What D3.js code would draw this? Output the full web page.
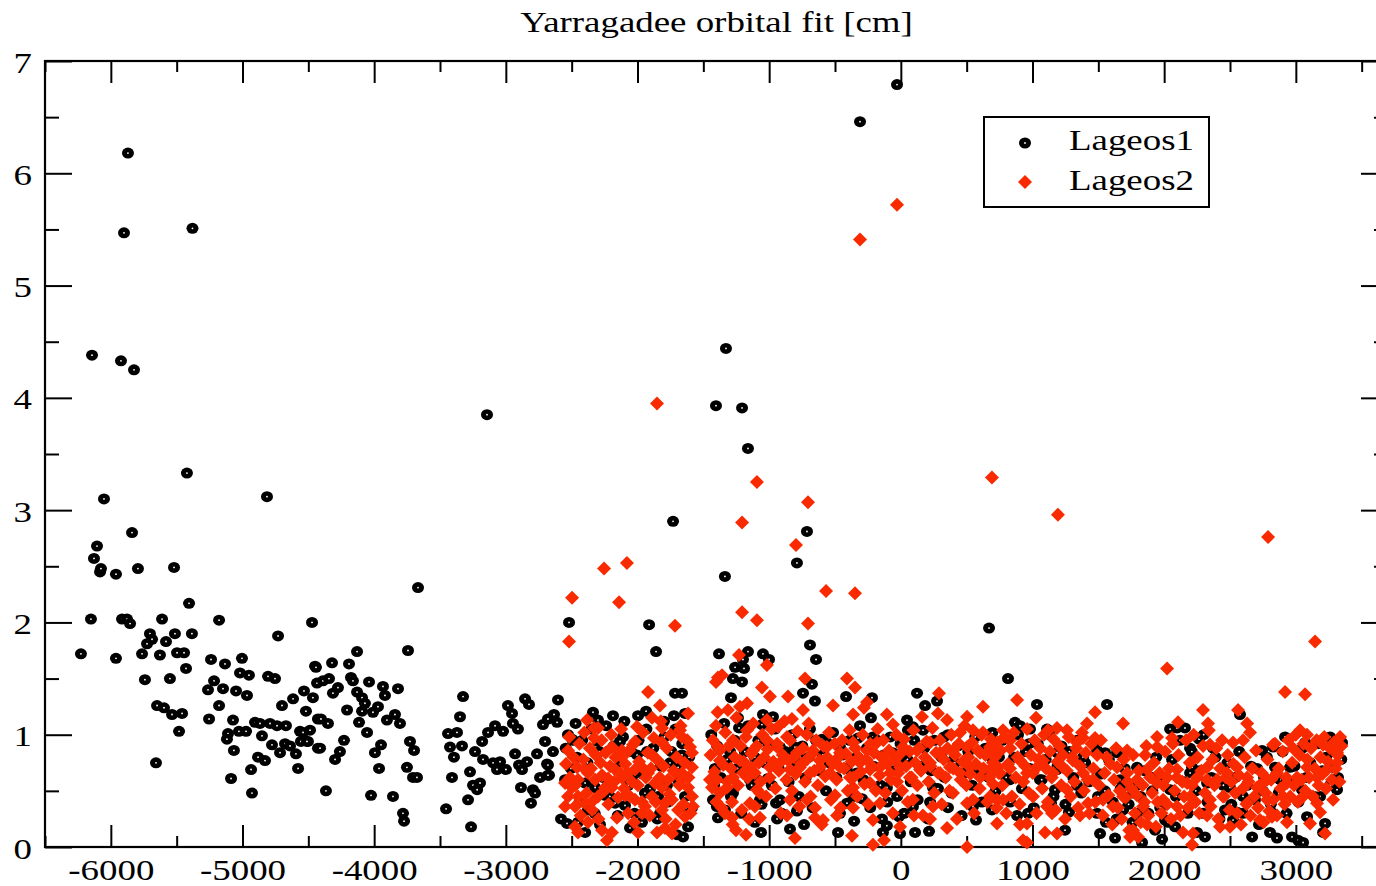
<!DOCTYPE html>
<html>
<head>
<meta charset="utf-8">
<script src="https://cdn.jsdelivr.net/npm/d3@7"></script>
<style>
  body { margin: 0; background: #fff; }
  text { font-family: "Liberation Serif", "Times New Roman", serif; fill: #000; }
</style>
</head>
<body>
<div class="chart"></div>
<script>
const title = 'Yarragadee orbital fit [cm]'
const seriesNames = ['Lageos1', 'Lageos2']
const xTickValues = [-6000, -5000, -4000, -3000, -2000, -1000, 0, 1000, 2000, 3000]
const yTickValues = [0, 1, 2, 3, 4, 5, 6, 7]

// Lageos1, early passes (before Lageos2 starts)
const lageos1A = [
  [-6227,1.72],[-6151,2.03],[-6143,4.38],[-6128,2.57],[-6105,2.68],[-6082,2.45],[-6075,2.48],[-6052,3.10],
  [-5961,2.43],[-5961,1.68],[-5923,4.33],[-5900,5.47],[-5915,2.03],[-5877,2.03],[-5870,6.18],[-5854,1.99],
  [-5839,2.80],[-5824,4.25],[-5794,2.48],[-5763,1.72],[-5741,1.49],[-5725,1.81],[-5703,1.90],[-5687,1.85],
  [-5611,2.03],[-5627,1.71],[-5581,1.83],[-5551,1.50],[-5520,2.49],[-5513,1.90],[-5497,1.73],[-5444,1.73],
  [-5429,1.59],[-5406,2.17],[-5384,1.90],[-5422,3.33],[-5380,5.51],[-5649,1.26],[-5596,1.24],[-5535,1.18],
  [-5459,1.19],[-5482,1.03],[-5657,0.75],
  [-5239,1.67],[-5178,2.02],[-5133,1.63],[-5004,1.68],[-5019,1.55],[-4951,1.53],[-5216,1.48],[-5262,1.40],
  [-5148,1.41],[-5178,1.26],[-5049,1.39],[-4966,1.35],[-5254,1.14],[-5072,1.13],[-5110,1.01],[-5118,0.96],
  [-5027,1.03],[-4973,1.03],[-5065,0.86],[-5087,0.61],[-4935,0.69],[-4928,0.48],[-4905,1.11],[-4867,1.10],
  [-4852,0.99],[-4882,0.80],[-4829,0.77],[-4806,1.52],[-4753,1.50],[-4730,1.88],[-4791,1.10],[-4738,1.08],
  [-4670,1.08],[-4776,0.91],[-4715,0.84],[-4677,0.92],[-4639,0.90],[-4700,1.26],[-4616,1.32],[-4594,0.83],
  [-4578,0.70],[-4533,1.39],[-4518,1.21],[-4563,1.03],[-4487,1.04],[-4556,0.94],[-4503,0.94],[-4472,2.00],
  [-4465,1.33],[-4449,1.61],[-4434,1.46],[-4427,1.14],[-4427,0.88],[-4814,3.12],
  [-3667,2.31],[-3743,1.75],[-4130,1.74],[-4442,1.60],[-4320,1.64],[-4191,1.63],[-4389,1.48],[-4343,1.50],
  [-4176,1.51],[-4161,1.48],[-4039,1.47],[-3933,1.43],[-3819,1.41],[-4313,1.37],[-4275,1.42],[-4130,1.38],
  [-4092,1.33],[-4070,1.28],[-3918,1.35],[-4206,1.22],[-4092,1.21],[-4009,1.20],[-3971,1.25],[-4404,1.14],
  [-4351,1.10],[-4115,1.11],[-3903,1.13],[-3842,1.18],[-3804,1.10],[-4540,1.02],[-4510,0.94],[-4229,0.95],
  [-4054,1.02],[-4411,0.88],[-4260,0.85],[-4297,0.78],[-3948,0.91],[-3994,0.84],[-3728,0.94],[-3697,0.86],
  [-3963,0.70],[-3751,0.71],[-3705,0.62],[-3675,0.62],[-4366,0.50],[-4024,0.46],[-3857,0.45],[-3781,0.30],
  [-3773,0.23],
  [-3454,0.34],[-3325,1.34],[-3348,1.16],[-3439,1.01],[-3371,1.02],[-3424,0.89],[-3333,0.90],[-3394,0.80],
  [-3180,0.94],[-3234,0.85],[-3173,0.78],[-3409,0.62],[-3272,0.67],[-3249,0.55],[-3196,0.57],[-3218,0.51],
  [-3287,0.42],[-3264,0.18],[-3143,3.85],
  [-3135,1.02],[-3082,1.08],[-3021,1.03],[-2984,1.26],[-2953,1.19],[-2946,1.10],[-2908,1.05],[-2854,1.32],
  [-2824,1.27],[-2604,1.31],[-2718,1.09],[-2680,1.14],[-2634,1.18],[-2611,1.11],[-2702,0.94],[-2642,0.85],
  [-2930,0.83],[-3097,0.75],[-3044,0.76],[-2999,0.69],[-3067,0.69],[-2900,0.73],[-2839,0.76],[-2877,0.69],
  [-2763,0.83],[-2687,0.74],[-2740,0.62],[-2672,0.64],[-2885,0.53],[-2794,0.51],[-2778,0.48],[-2809,0.39],
  [-2680,0.73],[-2680,0.64]
]

// Lageos1, passes shared with Lageos2 (clearly visible ones)
const lageos1B = [
  [-2520,2.00],[-2528,1.00],[-2490,0.95],[-2581,0.25],[-2535,0.21],[-2497,0.96],
  [-2338,1.20],[-2300,1.13],[-2186,1.17],[-1996,1.17],[-1935,1.21],[-1859,1.74],[-1912,1.98],[-1730,2.90],
  [-1715,1.37],[-1662,1.37],[-1799,1.12],[-1723,1.17],[-1639,1.19],[-2110,0.98],[-2133,0.94],[-2300,0.94],
  [-2459,0.80],[-2004,0.82],[-1928,0.85],[-1662,0.82],[-1753,0.75],[-1692,0.71],[-2398,0.57],[-2322,0.53],
  [-2171,0.39],[-2095,0.37],[-2452,0.22],[-2398,0.13],[-2285,0.20],[-2057,0.17],[-1966,0.22],[-1829,0.30],
  [-1700,0.11],[-1654,0.09],[-1616,0.18],[-1586,0.35],[-1943,0.48],[-1844,0.45],[-2247,0.46],[-2550,0.60],
  [-2042,0.62],[-1639,0.45],[-1776,0.55],[-2376,0.33],
  [-1381,1.72],[-1161,1.74],[-1199,1.67],[-1259,1.60],[-1191,1.59],[-1047,1.72],[-1001,1.67],[-1275,1.50],
  [-1206,1.47],[-1290,1.33],[-690,1.80],[-644,1.67],[-675,1.45],[-743,1.37],[-652,1.30],[-1237,1.15],
  [-1047,1.18],[-971,1.16],[-1229,1.06],[-1055,1.09],[-804,0.89],[-690,1.05],[-599,0.96],[-416,1.34],
  [-219,1.33],[-227,1.15],[-325,0.97],[-212,0.98],[123,1.37],[184,1.26],[275,1.30],[47,1.13],
  [92,1.07],[54,1.04],[169,1.04],[328,0.98],[670,1.95],[-766,0.80],[-1297,0.85],[-1412,0.70],
  [-1093,0.60],[-1009,0.61],[-1427,0.42],[-1397,0.36],[-1336,0.33],[-1389,0.26],[-1108,0.22],[-1062,0.13],
  [-948,0.39],[-918,0.42],[-940,0.25],[-842,0.16],[-789,0.32],[-735,0.20],[-477,0.13],[-355,0.23],
  [-295,0.43],[-409,0.39],[-143,0.25],[-106,0.19],[-136,0.13],[-14,0.27],[-6,0.12],[108,0.13],
  [214,0.14],[358,0.35],[571,0.24],[692,0.33],[92,0.36],[222,0.40],[-918,0.89],[-842,0.80],
  [-561,0.93],[-462,0.89],[-60,0.84],[-6,0.75],[-333,0.66],[-106,0.53],[244,0.53],[396,0.77],
  [579,0.69],[700,0.77],[548,0.36],[-1146,0.60],[-1070,0.42],[-1275,0.48],
  [-1328,4.44],[-1404,3.93],[-1206,3.91],[-1161,3.55],[-1336,2.41],[-789,2.53],[-713,2.81],[-310,6.46],
  [-29,6.79],[814,1.50],
  [1034,1.27],[1566,1.27],[867,1.11],[905,1.08],[981,1.05],[1110,1.05],[974,0.92],[1186,0.84],
  [1490,0.86],[1551,0.84],[1642,0.84],[2045,1.05],[2098,1.06],[2158,1.06],[2265,0.96],[2197,0.88],
  [2371,0.88],[2576,1.18],[2744,0.86],[2827,0.89],[2918,0.98],[3070,0.93],[3260,0.98],[3351,0.93],
  [1794,0.71],[2212,0.71],[2706,0.70],[2759,0.62],[2842,0.71],[2956,0.71],[3283,0.71],[3313,0.51],
  [1171,0.51],[1338,0.55],[1498,0.45],[1665,0.60],[1764,0.48],[1916,0.62],[2045,0.51],[2197,0.66],
  [2326,0.57],[2500,0.53],[2599,0.45],[2880,0.60],[3047,0.51],[3184,0.45],[883,0.28],[966,0.30],
  [1141,0.39],[1277,0.31],[1688,0.33],[1794,0.30],[1558,0.22],[2007,0.24],[2083,0.18],[2295,0.30],
  [2462,0.33],[2554,0.31],[2523,0.24],[2827,0.30],[3085,0.27],[3222,0.21],[1247,0.15],[1513,0.12],
  [1627,0.08],[1832,0.04],[1931,0.15],[1984,0.07],[2250,0.13],[2310,0.09],[2668,0.09],[2804,0.13],
  [2857,0.08],[2971,0.09],[3017,0.06],[3055,0.04],[3207,0.13],[1186,0.69],[1057,0.60],[829,0.60],
  [1384,0.80]
]

// Lageos1, points mostly hidden inside the Lageos2 cloud
const lageos1C = [
  [-2545,0.88],[-2505,0.70],[-2470,1.10],[-2440,0.40],[-2420,0.95],[-2380,0.75],[-2350,1.05],[-2325,0.30],
  [-2290,0.85],[-2262,0.62],[-2238,1.08],[-2210,0.45],[-2180,0.90],[-2150,0.28],[-2128,0.76],[-2100,1.12],
  [-2070,0.55],[-2048,0.85],[-2022,0.30],[-1992,0.95],[-1960,0.65],[-1932,1.05],[-1905,0.52],[-1880,0.88],
  [-1850,0.25],[-1822,0.72],[-1795,0.98],[-1770,0.40],[-1742,0.85],[-1712,1.05],[-1685,0.58],[-1660,0.92],
  [-1630,0.35],[-1608,0.80],
  [-1440,1.00],[-1418,0.55],[-1395,0.90],[-1368,0.62],[-1342,1.10],[-1318,0.78],[-1290,0.45],[-1262,0.95],
  [-1240,0.70],[-1212,0.30],[-1185,0.85],[-1160,1.08],[-1133,0.55],[-1110,0.80],[-1082,0.95],[-1058,0.38],
  [-1030,0.75],[-1004,0.92],[-980,0.55],[-955,1.05],[-928,0.70],[-905,0.30],[-878,0.85],[-852,0.58],
  [-826,1.00],[-800,0.72],[-775,0.45],[-748,0.90],[-722,0.62],[-698,0.80],[-670,0.35],[-645,0.95],
  [-620,0.68],[-592,0.82],[-568,0.50],[-540,0.75],[-515,1.02],[-490,0.62],[-462,0.30],[-438,0.82],
  [-412,0.70],[-388,0.95],[-360,0.45],[-335,0.80],[-310,1.08],[-284,0.60],[-258,0.88],[-232,0.35],
  [-208,0.72],[-180,0.95],[-155,0.55],[-130,0.82],[-103,0.40],[-80,0.98],[-52,0.68],[-28,0.45],
  [-2,0.92],[25,0.30],[50,0.78],[75,0.58],[102,0.95],[128,0.42],[152,0.72],[178,0.88],
  [205,0.25],[230,0.68],[255,0.95],[282,0.52],[308,0.80],[332,0.62],[358,1.00],[385,0.48],
  [410,0.75],[435,0.90],[462,0.28],[488,0.66],[512,0.85],[540,0.55],[565,0.98],[590,0.70],
  [615,0.40],[642,0.88],[668,0.62],[695,1.02],[720,0.50],[745,0.80],
  [770,0.95],[800,0.62],[830,0.40],[860,0.80],[890,1.00],[920,0.52],[950,0.85],[980,0.70],
  [1010,0.35],[1040,0.92],[1070,0.60],[1100,0.78],[1130,1.00],[1160,0.45],[1190,0.72],[1220,0.90],
  [1250,0.38],[1280,0.85],[1310,0.62],[1340,0.95],[1370,0.48],[1400,0.75],[1430,0.58],[1460,0.92],
  [1490,0.30],[1520,0.65],[1550,0.50],[1580,0.78],[1610,0.40],[1640,0.25],[1670,0.52],[1700,0.70],
  [1730,0.38],[1760,0.22],[1790,0.55],[1820,0.45],[1850,0.68],[1880,0.30],[1910,0.50],[1940,0.80],
  [1970,0.35],[2000,0.60],[2030,0.22],[2060,0.78],[2090,0.45],[2120,0.95],[2150,0.58],[2180,0.30],
  [2210,0.85],[2240,0.50],[2270,0.68],[2300,1.00],[2330,0.40],[2360,0.62],[2390,0.80],[2420,0.25],
  [2450,0.55],[2480,0.75],[2510,0.38],[2540,0.62],[2570,0.85],[2600,0.30],[2630,0.55],[2660,0.72],
  [2690,0.42],[2720,0.20],[2750,0.50],[2780,0.80],[2810,0.38],[2840,0.62],[2870,0.48],[2900,0.85],
  [2930,0.30],[2960,0.58],[2990,0.72],[3020,0.40],[3050,0.88],[3080,0.62],[3110,0.75],[3140,0.45],
  [3170,0.92],[3200,0.68],[3230,0.80],[3260,0.55],[3290,0.85],[3320,0.62],[3345,0.78]
]

// Lageos2, isolated high residuals
const lageos2A = [
  [-2497,2.22],[-2520,1.83],[-2254,2.48],[-2140,2.18],[-2080,2.53],[-1852,3.95],[-1715,1.97],[-1920,1.38],
  [-1206,2.09],[-1206,2.89],[-1093,3.25],[-1093,2.02],[-796,2.69],[-705,3.07],[-705,1.99],[-568,2.28],
  [-348,2.26],[-310,5.41],[-29,5.72],[692,3.29],[1193,2.96],[2022,1.59],[2789,2.76],[3146,1.83],
  [2918,1.38],[3070,1.36]
]

// Lageos2, main cloud
const lageos2B = [
  [-1829,1.26],[-2528,0.86],[-2383,1.13],[-2330,1.06],[-2300,1.06],[-2330,0.97],[-2194,0.89],[-2118,0.86],
  [-2034,0.91],[-2004,1.07],[-1890,1.15],[-1814,1.06],[-1677,1.04],[-1662,0.98],[-1616,1.19],[-1601,0.89],
  [-1586,0.84],[-1814,0.93],[-1890,0.82],[-2459,0.71],[-2398,0.69],[-2376,0.66],[-2512,0.62],[-2452,0.60],
  [-2550,0.57],[-2497,0.53],[-2322,0.60],[-2269,0.64],[-2224,0.61],[-2171,0.69],[-2118,0.62],[-2072,0.66],
  [-2019,0.69],[-1966,0.71],[-1920,0.66],[-1867,0.57],[-1814,0.53],[-1768,0.60],[-1715,0.66],[-1662,0.60],
  [-1616,0.53],[-2452,0.45],[-2398,0.39],[-2474,0.36],[-2345,0.33],[-2300,0.45],[-2194,0.53],[-2095,0.46],
  [-2019,0.42],[-1943,0.36],[-1890,0.45],[-1791,0.39],[-1738,0.42],[-1692,0.33],[-1639,0.27],[-1586,0.45],
  [-1579,0.36],[-2528,0.45],[-2550,0.36],[-2474,0.18],[-2452,0.13],[-2376,0.22],[-2269,0.15],[-2232,0.06],
  [-2194,0.13],[-2156,0.26],[-1966,0.30],[-1996,0.13],[-1852,0.13],[-1791,0.17],[-1738,0.12],[-1814,0.33],
  [-2057,0.45],[-2247,0.53],[-2118,0.80],[-1586,0.71],[-1662,0.66],
  [-1229,1.71],[-1017,1.62],[-1389,1.51],[-1404,1.47],[-1358,1.53],[-1055,1.42],[-994,1.34],[-857,1.34],
  [-728,1.50],[-409,1.50],[-348,1.42],[-515,1.26],[-363,1.18],[-257,1.29],[-280,1.24],[290,1.37],
  [624,1.25],[-1313,1.22],[-1222,1.25],[-1168,1.28],[-1404,1.08],[-1389,0.89],[-1017,1.13],[-933,1.07],
  [-827,1.14],[-743,1.22],[-713,1.00],[-106,1.18],[-60,1.09],[161,1.16],[282,1.19],[351,1.13],
  [450,1.02],[503,1.16],[548,1.04],[624,1.02],[677,0.89],[700,0.93],[-6,0.18],[-212,0.24],
  [-371,0.10],[-128,0.06],[-212,0.02],[503,0.00],[351,0.17],[222,0.25],[100,0.28],[-1252,0.15],
  [-1176,0.11],[-804,0.08],[-652,0.26],[-591,0.24],[-485,0.28],[-363,0.35],[-158,0.39],[-865,0.28],
  [-1070,0.26],[-1282,0.26],[-1336,0.30],[-1146,0.39],[-1108,0.36],[-1282,0.40],[-842,0.42],[-713,0.42],
  [-652,0.35],[-500,0.46],[-363,0.53],[-234,0.57],[-29,0.58],[92,0.42],[244,0.36],[396,0.48],
  [503,0.39],[548,0.42],[677,0.45],[731,0.42],[-1397,0.60],[-1320,0.53],[-1374,0.48],[-1275,0.62],
  [-1199,0.66],[-1093,0.51],[-1070,0.48],
  [-994,0.71],[-918,0.75],[-842,0.69],[-766,0.71],[-690,0.66],[-614,0.71],[-538,0.66],[-462,0.71],
  [-386,0.62],[-310,0.75],[-234,0.69],[-158,0.71],[-82,0.66],[-6,0.71],[69,0.62],[146,0.69],
  [222,0.75],[298,0.66],[374,0.71],[450,0.66],[526,0.71],[602,0.62],[677,0.69],[738,0.71],
  [-1017,0.95],[-940,0.89],[-865,0.98],[-789,0.84],[-667,0.86],[-561,0.89],[-462,0.84],[-363,0.93],
  [-257,0.86],[-181,0.93],[-82,0.84],[17,0.89],[123,0.86],[222,0.93],[298,0.84],[396,0.86],
  [503,0.89],[602,0.84],[700,0.86],[-1275,0.95],[-1168,1.04],[-1123,0.86],[-1374,0.77],[-1450,0.60],
  [-1434,0.53],[-1222,0.77],[-1146,0.71],
  [883,1.31],[1027,1.15],[1475,1.20],[1414,1.10],[1688,1.10],[2295,1.22],[2333,1.10],[2561,1.22],
  [2630,1.10],[2105,1.11],[3032,1.04],[3085,1.00],[3336,0.98],[1946,0.98],[2060,0.97],[1475,0.97],
  [1384,0.97],[1338,0.93],[1262,1.04],[1186,1.06],[1118,1.04],[776,1.04],[829,0.95],[731,0.93],
  [1718,0.86],[1855,0.82],[1946,0.89],[2348,0.91],[2523,0.93],[2599,0.95],[2652,1.02],[2827,0.91],
  [2979,0.88],[3207,0.91],[3313,0.84],[731,0.21],[905,0.20],[958,0.21],[1095,0.13],[1361,0.28],
  [928,0.06],[958,0.04],[1186,0.12],[1148,0.30],[1422,0.39],[1688,0.45],[1764,0.15],[1802,0.09],
  [1741,0.09],[1870,0.20],[2143,0.13],[2219,0.12],[2212,0.02],[2326,0.28],[2424,0.18],[2500,0.18],
  [2728,0.24],[2819,0.27],[2933,0.22],[3108,0.21],[3222,0.12],[3184,0.31],[3283,0.42],
  [700,0.75],[753,0.66],[829,0.70],[905,0.77],[958,0.66],[1034,0.71],[1080,0.77],[1156,0.66],
  [1232,0.71],[1307,0.77],[1384,0.66],[1460,0.60],[1642,0.71],[1718,0.66],[1794,0.60],[1870,0.69],
  [1946,0.57],[2022,0.62],[2098,0.69],[2174,0.57],[2250,0.62],[2326,0.71],[2402,0.60],[2478,0.66],
  [2554,0.71],[2630,0.62],[2706,0.53],[2782,0.60],[2857,0.66],[2933,0.57],[3009,0.62],[3085,0.71],
  [3161,0.62],[3237,0.69],[3313,0.75],
  [776,0.42],[1004,0.45],[1110,0.36],[1262,0.51],[1536,0.42],[1612,0.36],[1840,0.36],[1992,0.42],
  [2098,0.36],[2197,0.45],[2348,0.42],[2447,0.45],[2630,0.39],[2782,0.42],[2903,0.45],[3055,0.45],
  [3161,0.39]
]

// Lageos2, the rest of the dense cloud
const lageos2C = [
  [-2543,0.74],[-2518,0.98],[-2486,0.80],[-2473,0.55],[-2441,0.92],[-2432,0.28],[-2411,0.78],[-2404,1.02],
  [-2387,0.48],[-2362,0.88],[-2353,0.70],[-2331,0.42],[-2318,0.82],[-2296,0.25],[-2281,0.75],[-2273,0.95],
  [-2251,0.50],[-2243,0.84],[-2221,0.38],[-2208,0.72],[-2199,1.00],[-2177,0.58],[-2168,0.80],[-2147,0.44],
  [-2131,0.66],[-2124,1.05],[-2102,0.52],[-2093,0.74],[-2071,0.30],[-2063,0.86],[-2042,0.58],[-2026,0.22],
  [-2018,0.94],[-1997,0.55],[-1988,0.76],[-1966,0.40],[-1958,1.02],[-1937,0.62],[-1921,0.84],[-1907,0.28],
  [-1898,0.70],[-1876,0.97],[-1862,0.40],[-1853,0.78],[-1831,0.62],[-1823,1.12],[-1802,0.72],[-1786,0.25],
  [-1778,0.88],[-1757,0.47],[-1748,1.00],[-1726,0.68],[-1711,0.20],[-1703,0.80],[-1682,0.55],[-1673,1.08],
  [-1651,0.38],[-1643,0.75],[-1622,0.95],[-1613,0.62],[-1597,0.30],
  [-1445,0.82],[-1428,0.95],[-1416,0.67],[-1401,0.40],[-1392,1.20],[-1377,0.86],[-1361,0.35],[-1349,0.73],
  [-1333,1.02],[-1318,0.58],[-1306,0.90],[-1291,0.70],[-1277,0.20],[-1262,0.80],[-1249,1.15],[-1236,0.55],
  [-1219,0.90],[-1207,0.33],[-1193,0.76],[-1178,0.98],[-1164,0.62],[-1151,0.25],[-1135,0.83],[-1121,1.10],
  [-1109,0.66],[-1094,0.90],[-1079,0.75],[-1066,0.58],[-1052,1.00],[-1038,0.80],[-1023,0.45],[-1011,0.87],
  [-996,0.62],[-982,1.05],[-968,0.76],[-953,0.52],[-939,0.92],[-926,0.68],[-911,0.30],[-897,0.82],
  [-884,1.12],[-869,0.60],[-855,0.77],[-841,0.95],[-827,0.50],[-812,0.80],[-798,0.65],[-784,1.03],
  [-771,0.36],[-756,0.74],[-742,0.88],[-728,0.58],[-713,0.78],[-700,1.10],[-686,0.45],[-672,0.83],
  [-657,0.68],[-643,0.95],[-630,0.55],[-615,0.77],[-601,0.20],[-588,0.90],[-574,0.63],[-559,0.80],
  [-545,1.02],[-531,0.42],[-517,0.74],[-502,0.92],[-488,0.60],[-474,0.80],[-459,0.35],[-446,0.95],
  [-431,0.70],[-417,0.83],[-403,0.50],[-389,1.04],[-374,0.76],[-361,0.62],[-346,0.88],[-331,0.45],
  [-318,0.80],[-304,0.67],[-289,1.00],[-276,0.56],[-261,0.78],[-247,0.38],[-232,0.92],[-219,0.72],
  [-204,0.84],[-190,0.50],[-176,1.05],[-161,0.64],[-147,0.80],[-133,0.95],[-118,0.48],[-104,0.74],
  [-90,0.86],[-75,0.60],[-61,0.30],[-47,0.78],[-33,1.00],[-19,0.66],[-4,0.83],[10,0.50],
  [24,0.96],[39,0.72],[53,0.40],[67,0.85],[82,0.62],[96,1.04],[110,0.75],[125,0.55],
  [139,0.88],[153,0.68],[168,0.28],[182,0.80],[196,0.94],[211,0.58],[225,0.72],[240,1.06],
  [254,0.48],[268,0.84],[283,0.66],[297,0.95],[311,0.38],[326,0.78],[340,0.62],[355,0.88],
  [369,0.50],[383,1.00],[398,0.70],[412,0.82],[426,0.25],[441,0.92],[455,0.60],[470,0.76],
  [484,1.08],[498,0.55],[513,0.80],[527,0.65],[541,0.93],[556,0.30],[570,0.74],[585,0.86],
  [599,0.52],[613,1.00],[628,0.70],[642,0.82],[657,0.40],[671,0.62],[685,0.96],[700,0.56],
  [714,0.80],[728,0.35],[743,0.66],
  [758,0.86],[772,0.55],[787,0.98],[801,0.30],[815,0.74],[830,0.88],[844,0.45],[858,1.02],
  [873,0.62],[887,0.80],[902,0.38],[916,0.92],[930,0.58],[945,0.72],[959,1.05],[973,0.48],
  [988,0.82],[1002,0.66],[1017,0.95],[1031,0.30],[1045,0.78],[1060,0.88],[1074,0.52],[1088,1.00],
  [1103,0.70],[1117,0.40],[1132,0.85],[1146,0.62],[1160,0.96],[1175,0.33],[1189,0.76],[1203,0.90],
  [1218,0.55],[1232,0.82],[1247,0.25],[1261,0.68],[1275,0.98],[1290,0.45],[1304,0.80],[1318,0.58],
  [1333,0.88],[1347,0.35],[1362,0.72],[1376,1.02],[1390,0.50],[1405,0.84],[1419,0.60],[1433,0.30],
  [1448,0.92],[1462,0.70],[1477,0.40],[1491,0.82],[1505,0.55],[1520,0.95],[1534,0.28],[1548,0.66],
  [1563,0.80],[1577,0.46],[1592,0.74],[1606,0.20],[1620,0.60],[1635,0.88],[1649,0.35],[1663,0.50],
  [1678,0.25],[1692,0.78],[1707,0.44],[1721,0.58],[1735,0.15],[1750,0.52],[1764,0.82],[1778,0.30],
  [1793,0.46],[1807,0.68],[1822,0.22],[1836,0.55],[1850,0.40],[1865,0.90],[1879,0.28],[1893,0.62],
  [1908,0.48],[1922,0.75],[1937,0.18],[1951,0.40],[1965,0.66],[1980,0.30],[1994,0.55],[2008,0.85],
  [2023,0.38],[2037,0.70],[2052,0.25],[2066,0.92],[2080,0.50],[2095,0.62],[2109,0.82],[2123,0.28],
  [2138,0.58],[2152,0.45],[2167,0.95],[2181,0.35],[2195,0.75],[2210,0.55],[2224,1.00],[2238,0.40],
  [2253,0.80],[2267,0.30],[2282,0.68],[2296,0.90],[2310,0.48],[2325,0.60],[2339,1.04],[2353,0.36],
  [2368,0.78],[2382,0.55],[2396,0.88],[2411,0.25],[2425,0.70],[2440,0.95],[2454,0.45],[2468,0.62],
  [2483,0.82],[2497,0.33],[2511,0.58],[2526,0.74],[2540,0.48],[2555,0.30],[2569,0.64],[2583,0.20],
  [2598,0.52],[2612,0.80],[2626,0.38],[2641,0.58],[2655,0.28],[2670,0.70],[2684,0.45],[2698,0.86],
  [2713,0.35],[2727,0.55],[2741,0.66],[2756,0.22],[2770,0.48],[2785,0.78],[2799,0.32],[2813,0.60],
  [2828,0.42],[2842,0.92],[2857,0.28],[2871,0.70],[2885,0.52],[2900,0.85],[2914,0.38],[2928,0.62],
  [2943,0.95],[2957,0.45],[2972,0.75],[2986,0.55],[3000,1.00],[3015,0.40],[3029,0.82],[3043,0.60],
  [3058,0.92],[3072,0.50],[3087,0.78],[3101,0.62],[3115,0.88],[3130,0.45],[3144,0.70],[3158,0.95],
  [3173,0.55],[3187,0.80],[3202,0.65],[3216,0.98],[3230,0.52],[3245,0.76],[3259,0.88],[3274,0.60],
  [3288,0.93],[3302,0.70],[3317,0.82],[3331,0.58],[3346,0.90]
]

const lageos1 = lageos1A.concat(lageos1B, lageos1C)
const lageos2 = lageos2A.concat(lageos2B, lageos2C)

const W = 1376
const H = 886
const margin = {top: 61, right: -12, bottom: 39, left: 45}
const width = W - margin.left - margin.right
const height = H - margin.top - margin.bottom
const stretch = 1.23 // the original fonts are drawn wider than they are tall

const xScale = d3.scaleLinear()
  .domain([-6500, 3700])
  .range([0, width])

const yScale = d3.scaleLinear()
  .domain([0, 7])
  .range([height, 0])

const svg = d3.select('.chart').append('svg')
  .attr('width', W)
  .attr('height', H)
  .style('display', 'block')

svg.append('rect').attr('width', W).attr('height', H).attr('fill', '#fff')

const g = svg.append('g')
  .attr('transform', 'translate(' + margin.left + ',' + margin.top + ')')

// title
svg.append('text')
  .attr('transform', 'translate(' + (margin.left + width / 2) + ',32) scale(' + stretch + ',1)')
  .attr('text-anchor', 'middle')
  .style('font-size', '30px')
  .text(title)

const xMinor = d3.range(-6500, 3700, 1000)
const yMinor = d3.range(0.5, 7, 1)

function styleAxis(sel) {
  sel.select('.domain').remove()
  sel.selectAll('line').attr('stroke', '#000').attr('stroke-width', 2)
}

// bottom axis, ticks inward, plain hyphen for negatives
g.append('g')
  .attr('transform', 'translate(0,' + height + ')')
  .call(d3.axisBottom(xScale).tickValues(xTickValues).tickSize(-22).tickFormat(d => String(d)))
  .call(styleAxis)
  .call(a => a.selectAll('text')
    .attr('y', 0).attr('dy', 0)
    .attr('transform', 'translate(0,33) scale(' + stretch + ',1)')
    .style('font-size', '30px'))

g.append('g')
  .attr('transform', 'translate(0,' + height + ')')
  .call(d3.axisBottom(xScale).tickValues(xMinor).tickSize(-11).tickFormat(''))
  .call(styleAxis)

// top axis
g.append('g')
  .call(d3.axisTop(xScale).tickValues(xTickValues).tickSize(-22).tickFormat(''))
  .call(styleAxis)
g.append('g')
  .call(d3.axisTop(xScale).tickValues(xMinor).tickSize(-11).tickFormat(''))
  .call(styleAxis)

// left axis
g.append('g')
  .call(d3.axisLeft(yScale).tickValues(yTickValues).tickSize(-27).tickFormat(d => String(d)))
  .call(styleAxis)
  .call(a => a.selectAll('text')
    .attr('x', 0).attr('dy', 0)
    .attr('text-anchor', 'end')
    .attr('transform', 'translate(-13,11) scale(' + stretch + ',1)')
    .style('font-size', '30px'))
g.append('g')
  .call(d3.axisLeft(yScale).tickValues(yMinor).tickSize(-14).tickFormat(''))
  .call(styleAxis)

// right axis
g.append('g')
  .attr('transform', 'translate(' + width + ',0)')
  .call(d3.axisRight(yScale).tickValues(yTickValues).tickSize(-27).tickFormat(''))
  .call(styleAxis)
g.append('g')
  .attr('transform', 'translate(' + width + ',0)')
  .call(d3.axisRight(yScale).tickValues(yMinor).tickSize(-14).tickFormat(''))
  .call(styleAxis)

// frame
g.append('rect')
  .attr('width', width)
  .attr('height', height)
  .attr('fill', 'none')
  .attr('stroke', '#000')
  .attr('stroke-width', 2.2)

const red = '#fa2a00'
const diamond = d3.symbol().type(d3.symbolSquare).size(98)

function drawRing(sel) {
  sel.append('ellipse').attr('rx', 6).attr('ry', 5.5).attr('fill', '#000')
  sel.append('circle').attr('r', 0.9).attr('fill', '#fff')
}

const plot = g.append('g')

plot.selectAll('.l1')
  .data(lageos1)
  .enter().append('g')
    .attr('class', 'l1')
    .attr('transform', d => 'translate(' + xScale(d[0]) + ',' + yScale(d[1]) + ')')
    .each(function() { drawRing(d3.select(this)) })

plot.selectAll('.l2')
  .data(lageos2)
  .enter().append('path')
    .attr('class', 'l2')
    .attr('d', diamond)
    .attr('fill', red)
    .attr('transform', d => 'translate(' + xScale(d[0]) + ',' + yScale(d[1]) + ') rotate(45)')

// legend
const legend = svg.append('g')
legend.append('rect')
  .attr('x', 984).attr('y', 117)
  .attr('width', 225).attr('height', 90)
  .attr('fill', '#fff')
  .attr('stroke', '#000')
  .attr('stroke-width', 2)

const l1 = legend.append('g').attr('transform', 'translate(1025,143)')
drawRing(l1)
legend.append('path')
  .attr('d', diamond)
  .attr('fill', red)
  .attr('transform', 'translate(1025,182) rotate(45)')

seriesNames.forEach((name, i) => {
  legend.append('text')
    .attr('transform', 'translate(1069,' + (150 + i * 40) + ') scale(' + stretch + ',1)')
    .style('font-size', '30px')
    .text(name)
})
</script>
</body>
</html>
